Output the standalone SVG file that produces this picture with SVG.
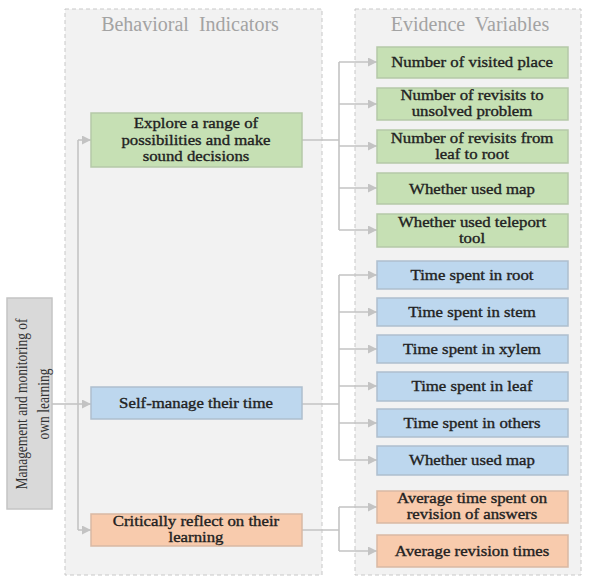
<svg xmlns="http://www.w3.org/2000/svg" width="589" height="577" viewBox="0 0 589 577">
<defs>
<marker id="ah" viewBox="0 0 10 10" refX="10" refY="5" markerWidth="9" markerHeight="9" markerUnits="userSpaceOnUse" orient="auto">
<path d="M0,0 L10,5 L0,10 z" fill="#c3c3c3"/>
</marker>
<style>
.panel{fill:#f2f2f2;stroke:#c8c8c8;stroke-width:1;stroke-dasharray:4 3}
.hdr{font-family:"Liberation Serif",serif;font-size:20px;fill:#a3a3a3;text-anchor:middle;white-space:pre}
.t{font-family:"Liberation Serif",serif;font-size:15px;fill:#222222;stroke:#222222;stroke-width:0.35;text-anchor:middle}
.mt{font-family:"Liberation Serif",serif;font-size:13.5px;fill:#333333;text-anchor:middle}
.g{fill:#c6e0b4;stroke:#b5c9a8;stroke-width:1.5}
.b{fill:#bdd7ee;stroke:#aebfce;stroke-width:1.5}
.o{fill:#f8cbad;stroke:#d9b9a4;stroke-width:1.5}
.m{fill:#d9d9d9;stroke:#c4c4c4;stroke-width:1.5}
.c{fill:none;stroke:#c3c3c3;stroke-width:1.6}
.a{fill:none;stroke:#c3c3c3;stroke-width:1.6;marker-end:url(#ah)}
</style>
</defs>
<rect width="589" height="577" fill="#ffffff"/>
<g id="panel-behavioral">
<rect class="panel" x="65" y="9" width="257" height="566"/>
<text class="hdr" x="190" y="31" xml:space="preserve">Behavioral  Indicators</text>
</g>
<g id="panel-evidence">
<rect class="panel" x="355" y="9" width="226" height="566"/>
<text class="hdr" x="470" y="31" xml:space="preserve">Evidence  Variables</text>
</g>
<g id="connectors">
<path class="c" d="M52,404 H78"/>
<path class="c" d="M78,140 V530"/>
<path class="a" d="M78,140 H91"/>
<path class="a" d="M78,404 H91"/>
<path class="a" d="M78,530 H91"/>
<path class="c" d="M302,140 H339"/>
<path class="c" d="M339,62 V230"/>
<path class="a" d="M339,62 H377"/>
<path class="a" d="M339,104 H377"/>
<path class="a" d="M339,146 H377"/>
<path class="a" d="M339,188 H377"/>
<path class="a" d="M339,230 H377"/>
<path class="c" d="M302,404 H339"/>
<path class="c" d="M339,275 V460"/>
<path class="a" d="M339,275 H377"/>
<path class="a" d="M339,312 H377"/>
<path class="a" d="M339,349 H377"/>
<path class="a" d="M339,386 H377"/>
<path class="a" d="M339,423 H377"/>
<path class="a" d="M339,460 H377"/>
<path class="c" d="M302,530 H339"/>
<path class="c" d="M339,507 V551"/>
<path class="a" d="M339,507 H377"/>
<path class="a" d="M339,551 H377"/>
</g>
<g id="main">
<rect class="m" x="7" y="298" width="45" height="211"/>
<text class="mt" transform="translate(30,404) scale(1.3,1) rotate(-90)"><tspan x="0" y="-2">Management and monitoring of</tspan><tspan x="0" y="15">own learning</tspan></text>
</g>
<g id="explore">
<rect class="g" x="91" y="113" width="211" height="54"/>
<g transform="translate(196,0) scale(1.12,1)">
<text class="t" x="0" y="128">Explore a range of</text>
<text class="t" x="0" y="145">possibilities and make</text>
<text class="t" x="0" y="161">sound decisions</text>
</g>
</g>
<g id="selfmanage">
<rect class="b" x="91" y="387" width="211" height="32"/>
<g transform="translate(196,0) scale(1.12,1)"><text class="t" x="0" y="408">Self-manage their time</text></g>
</g>
<g id="critically">
<rect class="o" x="91" y="514" width="211" height="32"/>
<g transform="translate(196,0) scale(1.12,1)">
<text class="t" x="0" y="526">Critically reflect on their</text>
<text class="t" x="0" y="542">learning</text>
</g>
</g>
<g id="ev-g1"><rect class="g" x="377" y="47" width="191" height="31"/><g transform="translate(472,0) scale(1.12,1)"><text class="t" x="0" y="67">Number of visited place</text></g></g>
<g id="ev-g2"><rect class="g" x="377" y="88" width="191" height="32"/><g transform="translate(472,0) scale(1.12,1)"><text class="t" x="0" y="100">Number of revisits to</text><text class="t" x="0" y="116">unsolved problem</text></g></g>
<g id="ev-g3"><rect class="g" x="377" y="130" width="191" height="33"/><g transform="translate(472,0) scale(1.12,1)"><text class="t" x="0" y="143">Number of revisits from</text><text class="t" x="0" y="159">leaf to root</text></g></g>
<g id="ev-g4"><rect class="g" x="377" y="173" width="191" height="31"/><g transform="translate(472,0) scale(1.12,1)"><text class="t" x="0" y="194">Whether used map</text></g></g>
<g id="ev-g5"><rect class="g" x="377" y="214" width="191" height="33"/><g transform="translate(472,0) scale(1.12,1)"><text class="t" x="0" y="227">Whether used teleport</text><text class="t" x="0" y="243">tool</text></g></g>
<g id="ev-b1"><rect class="b" x="377" y="261" width="191" height="28"/><g transform="translate(472,0) scale(1.12,1)"><text class="t" x="0" y="280">Time spent in root</text></g></g>
<g id="ev-b2"><rect class="b" x="377" y="298" width="191" height="28"/><g transform="translate(472,0) scale(1.12,1)"><text class="t" x="0" y="317">Time spent in stem</text></g></g>
<g id="ev-b3"><rect class="b" x="377" y="335" width="191" height="28"/><g transform="translate(472,0) scale(1.12,1)"><text class="t" x="0" y="354">Time spent in xylem</text></g></g>
<g id="ev-b4"><rect class="b" x="377" y="372" width="191" height="29"/><g transform="translate(472,0) scale(1.12,1)"><text class="t" x="0" y="391">Time spent in leaf</text></g></g>
<g id="ev-b5"><rect class="b" x="377" y="409" width="191" height="28"/><g transform="translate(472,0) scale(1.12,1)"><text class="t" x="0" y="428">Time spent in others</text></g></g>
<g id="ev-b6"><rect class="b" x="377" y="446" width="191" height="29"/><g transform="translate(472,0) scale(1.12,1)"><text class="t" x="0" y="465">Whether used map</text></g></g>
<g id="ev-o1"><rect class="o" x="377" y="491" width="191" height="32"/><g transform="translate(472,0) scale(1.12,1)"><text class="t" x="0" y="503">Average time spent on</text><text class="t" x="0" y="519">revision of answers</text></g></g>
<g id="ev-o2"><rect class="o" x="377" y="535" width="191" height="32"/><g transform="translate(472,0) scale(1.12,1)"><text class="t" x="0" y="556">Average revision times</text></g></g>
</svg>
